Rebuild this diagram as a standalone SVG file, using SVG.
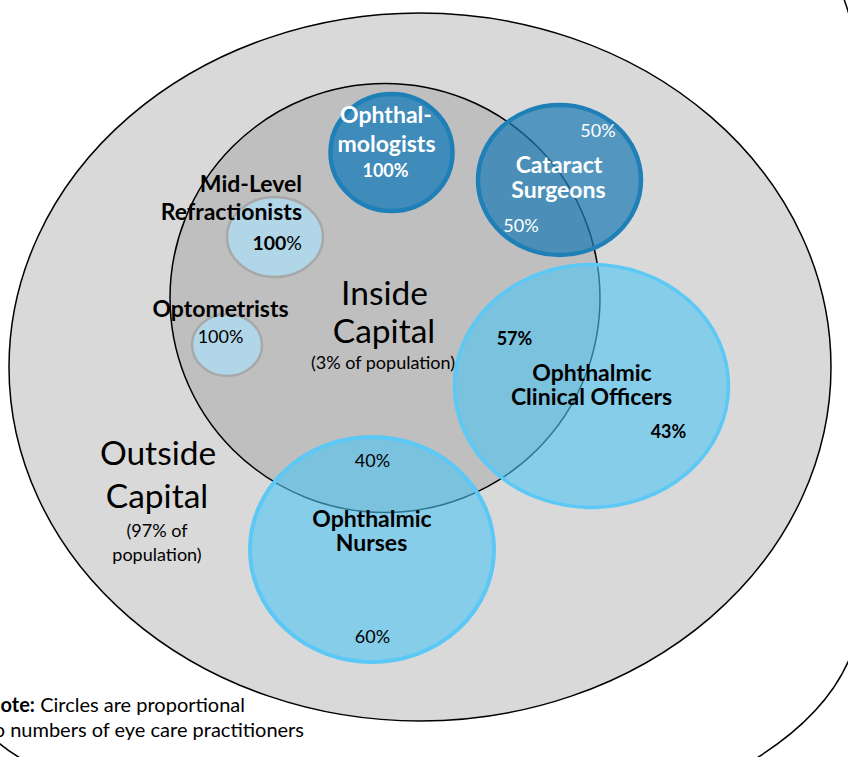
<svg xmlns="http://www.w3.org/2000/svg" width="848" height="757" viewBox="0 0 848 757">
<style>
text{font-family:Lato,"Open Sans","Liberation Sans",sans-serif;text-anchor:middle}
.b{font-weight:bold}
.w{fill:#ffffff}
.k{fill:#000000}
.big{font-size:33.5px}
.lab{font-size:23px}
.pct{font-size:18px}
.sm{font-size:18px}
.note{font-size:20px}
.region{stroke:#000;stroke-width:1.5}
.dark{fill:#1f7db5;fill-opacity:0.72;stroke:#1f80b8;stroke-width:4.5}
.light{fill:#b1d6e8;stroke:#a8a8a8;stroke-width:2.5}
.sky{fill:#4fc5f5;fill-opacity:0.6;stroke:#5bc8f5;stroke-width:3.5}
</style>
<rect x="0" y="0" width="848" height="757" fill="#ffffff"/>
<g id="frame">
<path d="M 838,-15 Q 860,30 862,120 L 862,600 Q 860,700 740,768 L 40,768 Q 10,755 -10,735" fill="#ffffff" stroke="#000" stroke-width="1.5"/>
</g>
<g id="outside-capital">
<ellipse class="region" cx="420" cy="367" rx="411" ry="354" fill="#d9d9d9"/>
<text class="big k" x="158" y="465">Outside</text>
<text class="big k" x="157" y="508">Capital</text>
<text class="sm k" x="157" y="537">(97% of</text>
<text class="sm k" x="157" y="561">population)</text>
</g>
<g id="inside-capital">
<ellipse class="region" cx="385" cy="298" rx="215" ry="214.5" fill="#bfbfbf"/>
<text class="big k" x="384.5" y="305">Inside</text>
<text class="big k" x="384" y="343">Capital</text>
<text class="sm k" x="383" y="369">(3% of population)</text>
</g>
<g id="mid-level-refractionists">
<ellipse class="light" cx="275" cy="237" rx="48" ry="40"/>
<text class="lab b k" x="302" y="192" style="text-anchor:end">Mid-Level</text>
<text class="lab b k" x="302" y="220" style="text-anchor:end">Refractionists</text>
<text class="k" x="302" y="250" style="text-anchor:end;font-size:19.5px"><tspan class="b">100</tspan>%</text>
</g>
<g id="optometrists">
<ellipse class="light" cx="227" cy="345" rx="35" ry="31"/>
<text class="lab b k" x="220.5" y="317">Optometrists</text>
<text class="pct k" x="220.5" y="343">100%</text>
</g>
<g id="ophthalmologists">
<ellipse cx="391.5" cy="152.5" rx="61" ry="58.5" fill="#3f8bba" stroke="#1f80b8" stroke-width="4.5"/>
<text class="lab b w" x="386" y="123">Ophthal-</text>
<text class="lab b w" x="386.5" y="152">mologists</text>
<text class="pct b w" x="385.5" y="177">100%</text>
</g>
<g id="cataract-surgeons">
<ellipse class="dark" cx="559.5" cy="180" rx="81.5" ry="75"/>
<text class="pct w" x="598" y="137">50%</text>
<text class="lab b w" x="559" y="173">Cataract</text>
<text class="lab b w" x="558.5" y="198">Surgeons</text>
<text class="pct w" x="521" y="232">50%</text>
</g>
<g id="ophthalmic-clinical-officers">
<ellipse class="sky" cx="591.5" cy="386" rx="137" ry="121.5"/>
<text class="pct b k" x="514.5" y="345">57%</text>
<text class="lab b k" x="592" y="381">Ophthalmic</text>
<text class="lab b k" x="591.5" y="405">Clinical Officers</text>
<text class="pct b k" x="668.5" y="438">43%</text>
</g>
<g id="ophthalmic-nurses">
<ellipse class="sky" cx="372" cy="549.5" rx="122" ry="112.5" style="stroke-width:4"/>
<text class="pct k" x="372.5" y="467">40%</text>
<text class="lab b k" x="372" y="527">Ophthalmic</text>
<text class="lab b k" x="371.5" y="551">Nurses</text>
<text class="pct k" x="372.5" y="643">60%</text>
</g>
<g id="note">
<text class="note k" x="245" y="712" style="text-anchor:end"><tspan class="b">Note:</tspan> Circles are proportional</text>
<text class="note k" x="304" y="737" style="text-anchor:end">to numbers of eye care practitioners</text>
</g>
<g id="connectors"></g>
</svg>
